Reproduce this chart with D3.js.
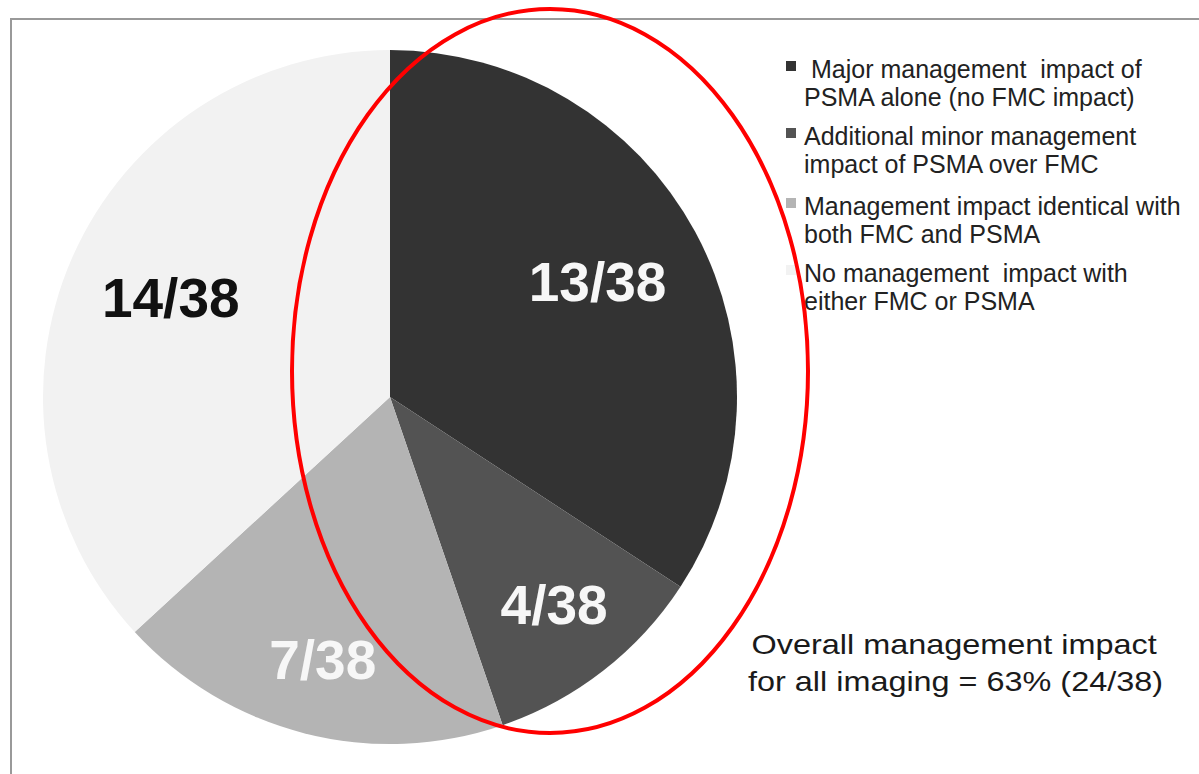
<!DOCTYPE html>
<html>
<head>
<meta charset="utf-8">
<script src="https://cdn.jsdelivr.net/npm/d3@7"></script>
<style>
  body { margin: 0; background: #fff; }
  svg { display: block; font-family: "Liberation Sans", Arial, sans-serif; }
  text { white-space: pre; }
</style>
</head>
<body>
<svg width="1199" height="774"></svg>
<script>
// slice data (clockwise from 12 o'clock)
var categories = [
    [" Major management  impact of", "PSMA alone (no FMC impact)"],
    ["Additional minor management", "impact of PSMA over FMC"],
    ["Management impact identical with", "both FMC and PSMA"],
    ["No management  impact with", "either FMC or PSMA"]
];
var counts = [13, 4, 7, 14];
var total = 38;
var summaryLines = ["Overall management impact", "for all imaging = 63% (24/38)"];

var colors = ["#333333", "#535353", "#b4b4b4", "#f2f2f2"],
    labelColors = ["#f7f7f7", "#f7f7f7", "#f7f7f7", "#111111"],
    labelRadius = [0.68, 0.77, 0.79, 0.69];

var svg = d3.select("svg"),
    cx = 390, cy = 397, radius = 347;

// frame
svg.append("path")
    .attr("d", "M11,774V19H1199")
    .attr("fill", "none")
    .attr("stroke", "#999")
    .attr("stroke-width", 2);

var pie = d3.pie().sort(null).value(function (d) { return d; });
var arc = d3.arc().innerRadius(0).outerRadius(radius);
var arcs = pie(counts);

var g = svg.append("g")
    .attr("transform", "translate(" + cx + "," + cy + ")");

g.selectAll("path.slice")
    .data(arcs)
    .enter().append("path")
    .attr("class", "slice")
    .attr("d", arc)
    .attr("fill", function (d, i) { return colors[i]; });

g.selectAll("text.lbl")
    .data(arcs)
    .enter().append("text")
    .attr("class", "lbl")
    .attr("transform", function (d, i) {
        var r = radius * labelRadius[i];
        var a = (d.startAngle + d.endAngle) / 2;
        return "translate(" + (Math.sin(a) * r) + "," + (-Math.cos(a) * r) + ")";
    })
    .attr("text-anchor", "middle")
    .attr("dy", "0.3em")
    .attr("font-size", 55)
    .attr("font-weight", "bold")
    .attr("fill", function (d, i) { return labelColors[i]; })
    .text(function (d) { return d.data + "/" + total; });

// legend
var legendY = [78, 145, 215, 282];
var item = svg.append("g").selectAll("g")
    .data(categories)
    .enter().append("g")
    .attr("transform", function (d, i) { return "translate(0," + legendY[i] + ")"; });

item.append("rect")
    .attr("x", 786)
    .attr("y", -17)
    .attr("width", 10)
    .attr("height", 10)
    .attr("fill", function (d, i) { return colors[i]; });

item.append("text")
    .attr("font-size", 25)
    .attr("fill", "#222")
    .selectAll("tspan")
    .data(function (d) { return d; })
    .enter().append("tspan")
    .attr("x", 804)
    .attr("y", function (d, j) { return j * 28; })
    .text(function (d) { return d; });

// summary text (source is slightly stretched horizontally)
svg.append("text")
    .attr("font-size", 27)
    .attr("fill", "#1a1a1a")
    .attr("transform", "translate(748,0) scale(1.2,1)")
    .selectAll("tspan")
    .data(summaryLines)
    .enter().append("tspan")
    .attr("x", function (d, i) { return i === 0 ? 3 : 0; })
    .attr("y", function (d, i) { return 654 + i * 37; })
    .text(function (d) { return d; });

// red highlight ellipse
svg.append("ellipse")
    .attr("cx", 550)
    .attr("cy", 371)
    .attr("rx", 258)
    .attr("ry", 362)
    .attr("fill", "none")
    .attr("stroke", "#ff0000")
    .attr("stroke-width", 4);
</script>
</body>
</html>
